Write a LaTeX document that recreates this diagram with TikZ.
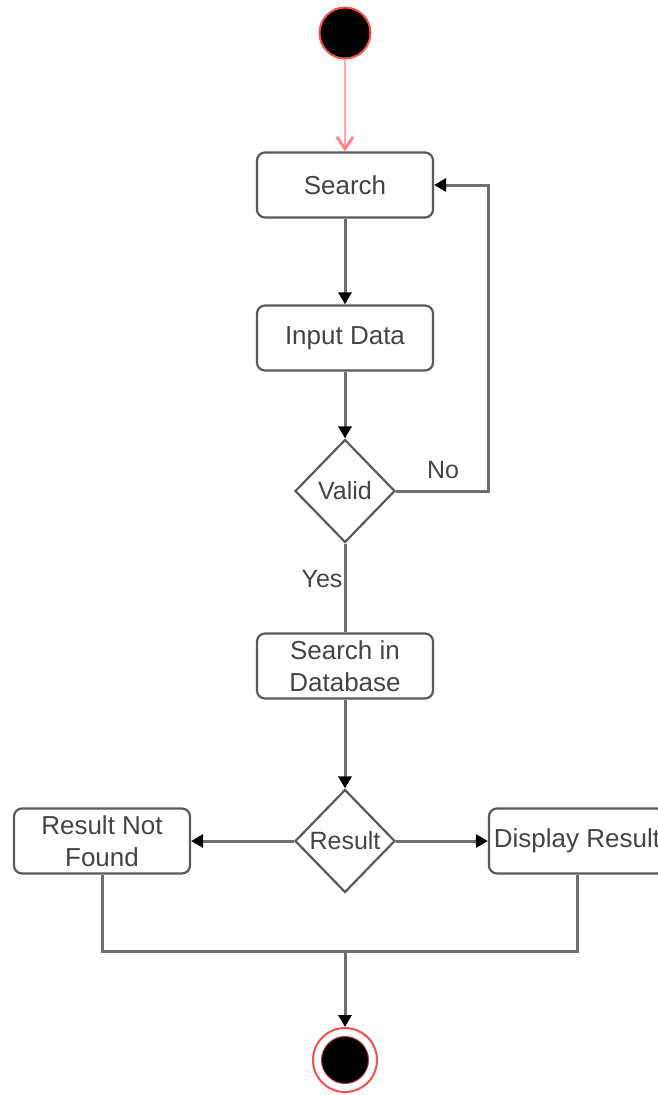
\documentclass[tikz,border=0pt]{standalone}
\usepackage{fontspec}
\setmainfont{Liberation Sans}
\usetikzlibrary{shapes.geometric,arrows.meta}
\definecolor{edge}{HTML}{5A5A5A}
\definecolor{flow}{HTML}{6E6E6E}
\definecolor{txt}{HTML}{444444}
\definecolor{startred}{HTML}{FF4D4D}
\tikzset{
  action/.style={draw=edge, line width=2.2pt, rounded corners=8pt, fill=white,
    minimum width=176pt, minimum height=65pt, inner sep=0pt, align=center,
    text=txt, font=\fontsize{26}{32}\selectfont},
  decision/.style={diamond, draw=edge, line width=2.2pt, fill=white,
    minimum width=100pt, minimum height=103pt, inner sep=0pt, aspect=1,
    text=txt, font=\fontsize{25}{30}\selectfont},
  guard/.style={text=txt, font=\fontsize{25}{30}\selectfont, inner sep=0pt},
  flowline/.style={draw=flow, line width=3pt},
  flowarrow/.style={flowline, -{Triangle[length=12pt,width=13pt,fill=black,color=black]}},
}
\begin{document}
\begin{tikzpicture}[x=1pt,y=-1pt]
\useasboundingbox (0,0) rectangle (658,1095);

% initial node
\node (start) [circle, fill=black, draw=startred, line width=2pt, minimum size=51pt, inner sep=0pt] at (345,33) {};

% activities
\node (search)  [action] at (345,185) {Search};
\node (input)   [action] at (345,338) {Input Data};
\node (valid)   [decision] at (345,491) {Valid};
\node (dbsearch)[action] at (345,666) {Search in\\Database};
\node (result)  [decision] at (345,841) {Result};
\node (notfound)[action] at (102,841) {Result Not\\Found};
\node (display) [action] at (577,841) {Display Result};

% final node
\node (final) [circle, draw=startred, line width=2pt, minimum size=64pt, inner sep=0pt] at (345,1060) {};
\node (finaldot) [circle, fill=black, draw=startred!70!black, line width=1pt, minimum size=47pt, inner sep=0pt] at (final.center) {};

% guards
\node (nolbl)  [guard] at (443,470) {No};
\node (yeslbl) [guard] at (322,579) {Yes};

\coordinate (loopcorner) at (488,491);
\coordinate (looptop) at (488,185);
\coordinate (joinleft) at (102,951);
\coordinate (joinright) at (577,951);
\coordinate (joinmid) at (345,951);

% connectors
\draw[draw=startred!50, line width=2.8pt, -{Straight Barb[length=12pt,width=16pt,color=startred!70]}] (start) -- (search.north);
\draw[flowarrow] (search) -- (input);
\draw[flowarrow] (input) -- (valid.north);
\draw[flowarrow] (valid.east) -- (loopcorner) -- (looptop) -- (search.east);
\draw[flowline] (valid.south) -- (dbsearch.north);
\draw[flowarrow] (dbsearch) -- (result.north);
\draw[flowarrow] (result.west) -- (notfound.east);
\draw[flowarrow] (result.east) -- (display.west);
\draw[flowline] (notfound.south) -- (joinleft) -- (joinright) -- (display.south);
\draw[flowarrow] (joinmid) -- (final.north);
\end{tikzpicture}
\end{document}
